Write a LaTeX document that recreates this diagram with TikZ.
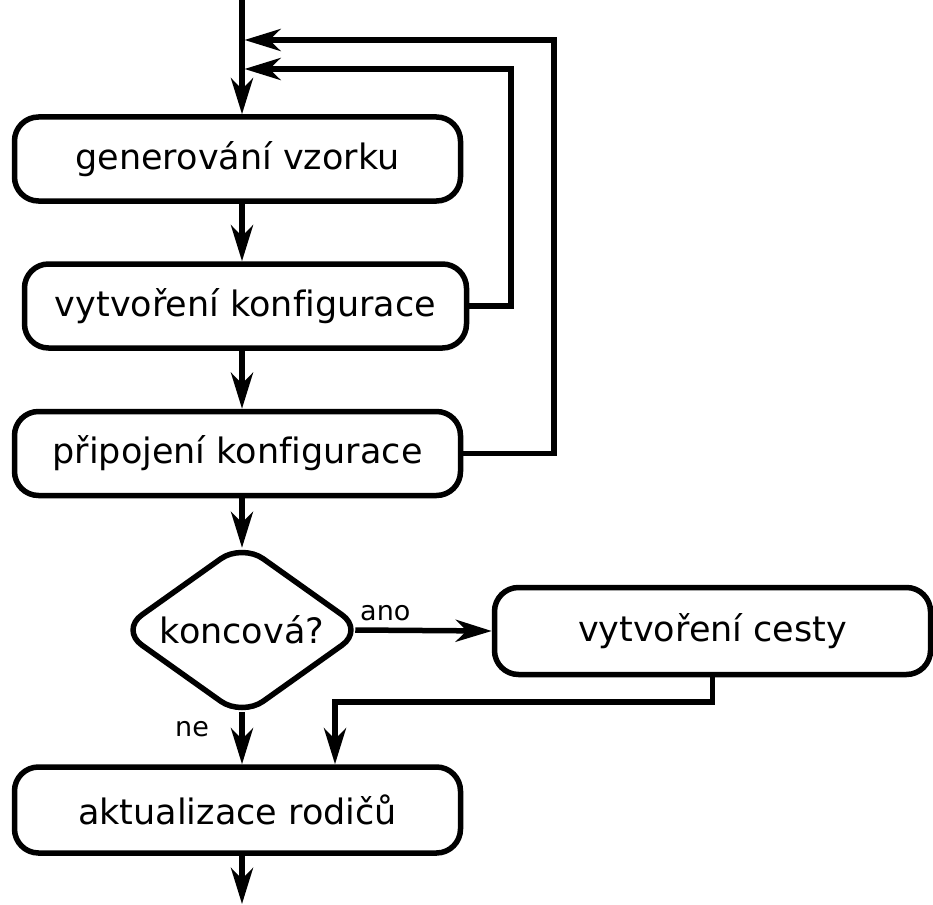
\documentclass[tikz,border=0pt]{standalone}
\usepackage{fontspec}
\setmainfont{DejaVu Sans}[Ligatures=CommonOff]
\usetikzlibrary{arrows.meta,shapes.geometric}

\begin{document}
\begin{tikzpicture}[x=1pt,y=-1pt,
  box/.style={draw,line width=5.5pt,rounded corners=24pt,inner sep=0pt,
    minimum width=446pt,minimum height=84pt,font=\fontsize{35}{42}\selectfont},
  test/.style={draw,diamond,aspect=1.12,line width=5.5pt,rounded corners=26pt,inner sep=0pt,
    minimum width=245pt,minimum height=150pt,font=\fontsize{35}{42}\selectfont},
  flow/.style={line width=5.5pt,-{Stealth[length=36pt,width=22pt,inset=11pt]}},
  lbl/.style={font=\fontsize{27}{32}\selectfont,inner sep=0pt}]
  \useasboundingbox (0,0) rectangle (933,904);
  % main column
  \coordinate (top) at (242,0);
  \coordinate (end) at (242,904);
  \node [box] (gen) at (237.5,159) {generování vzorku};
  \node [box,minimum width=442pt] (konf) at (245.5,306) {vytvoření konfigurace};
  \node [box] (pripoj) at (237.5,453.5) {připojení konfigurace};
  \node [test] (konc) at (242,630) {koncová?};
  \node [box,minimum width=436pt,minimum height=87pt] (cesta) at (712.5,631) {vytvoření cesty};
  \node [box,minimum height=86pt] (rodice) at (237.5,810) {aktualizace rodičů};
  % arrows down
  \draw [flow] (top) -- (top |- gen.north);
  \draw [flow] (gen.south -| top) -- (konf.north -| top);
  \draw [flow] (konf.south -| top) -- (pripoj.north -| top);
  \draw [flow] (pripoj.south -| top) -- ([yshift=-8pt]konc.north);
  \draw [flow] ([yshift=8pt]konc.south) -- (rodice.north -| top);
  \draw [flow] (rodice.south -| top) -- (end);
  % labels
  \node [lbl,anchor=base west] (ano) at (360,620) {ano};
  \node [lbl,anchor=base west] (ne) at (175,736) {ne};
  % branch
  \draw [flow] ([xshift=-12pt]konc.east) -- (cesta.west);
  \coordinate (join) at (335,702);
  \draw [flow] (cesta.south) |- (join) -- (join |- rodice.north);
  % loops back
  \coordinate (loopA) at (511,69);
  \coordinate (loopB) at (554,40);
  \draw [flow,shorten >=2.5pt] (konf.east) -| (loopA) -- (loopA -| top);
  \draw [flow,shorten >=2.5pt] (pripoj.east) -| (loopB) -- (loopB -| top);
\end{tikzpicture}
\end{document}
